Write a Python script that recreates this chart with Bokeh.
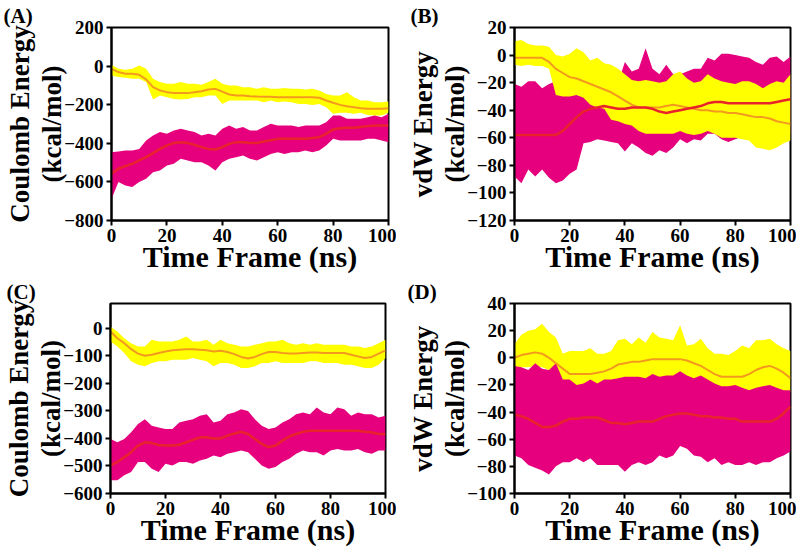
from bokeh.plotting import figure
from bokeh.layouts import column, row
from bokeh.models import LinearAxis, FixedTicker, Range1d
from bokeh.embed import file_html
from bokeh.resources import INLINE

# ---------------- data (every 2.5 ns) ----------------
time_ns = [0, 2.5, 5, 7.5, 10, 12.5, 15, 17.5, 20, 22.5, 25, 27.5, 30, 32.5, 35, 37.5, 40,
           42.5, 45, 47.5, 50, 52.5, 55, 57.5, 60, 62.5, 65, 67.5, 70, 72.5, 75, 77.5, 80,
           82.5, 85, 87.5, 90, 92.5, 95, 97.5, 100]

# (A) Coulomb energy (kcal/mol): yellow system band (hi/lo) + running average, magenta likewise
a_yel_hi = [7, -14, -19, -14, 3, -14, -66, -83, -92, -92, -83, -92, -92, -97, -83, -66, -92,
            -101, -101, -109, -109, -118, -109, -118, -118, -114, -118, -118, -121, -118, -126, -144, -152,
            -152, -135, -161, -178, -178, -187, -187, -183]
a_yel_lo = [-49, -57, -61, -66, -66, -83, -173, -152, -161, -170, -173, -170, -161, -161, -152, -152, -196,
            -178, -178, -178, -178, -178, -187, -178, -187, -183, -187, -196, -196, -201, -196, -213, -247,
            -242, -242, -247, -242, -253, -256, -256, -242]
a_yel_avg = [-14, -31, -40, -40, -45, -69, -109, -126, -135, -139, -140, -140, -135, -130, -121, -118, -132,
             -147, -152, -152, -156, -158, -159, -159, -161, -161, -161, -161, -161, -161, -164, -178, -190,
             -201, -208, -213, -218, -221, -221, -221, -218]
a_mag_hi = [-446, -442, -437, -437, -429, -385, -360, -342, -351, -334, -325, -334, -342, -360, -351, -360, -325,
            -308, -325, -316, -334, -334, -316, -299, -308, -308, -308, -316, -308, -308, -308, -291, -256,
            -256, -273, -273, -273, -265, -256, -265, -247]
a_mag_lo = [-688, -601, -619, -627, -601, -584, -550, -541, -515, -506, -480, -489, -498, -498, -515, -541, -498,
            -480, -472, -463, -480, -489, -472, -455, -446, -455, -446, -446, -437, -446, -437, -411, -377,
            -385, -385, -385, -385, -377, -377, -385, -394]
a_mag_avg = [-558, -532, -518, -506, -489, -472, -451, -429, -411, -399, -394, -398, -408, -420, -429, -432, -420,
             -403, -394, -394, -398, -398, -391, -384, -377, -377, -377, -377, -377, -373, -368, -351, -328,
             -322, -320, -320, -315, -311, -308, -308, -308]

# (B) vdW energy (kcal/mol)
b_yel_hi = [10, 11, 8, 7, 7, 6, 0, -1, 1, 5, 2, -4, -2, -6, -7, -10, -14,
            -18, -19, -18, -19, -20, -19, -14, -12, -17, -20, -19, -14, -17, -19, -20, -21,
            -19, -19, -21, -24, -21, -19, -20, -14]
b_yel_lo = [-7, -8, -7, -8, -8, -10, -29, -30, -30, -29, -31, -36, -38, -39, -47, -48, -50,
            -51, -55, -57, -57, -57, -57, -57, -55, -57, -58, -57, -55, -57, -60, -60, -60,
            -61, -62, -67, -68, -69, -67, -64, -62]
b_yel_avg = [-2, -2, -2, -2, -2, -5, -10, -13, -16, -17, -19, -21, -23, -25, -27, -30, -33,
             -36, -38, -38, -38, -38, -37, -36, -37, -38, -39, -40, -40, -41, -41, -42, -42,
             -43, -44, -45, -45, -46, -48, -49, -50]
b_mag_hi = [-21, -23, -19, -19, -24, -21, -19, -26, -26, -29, -30, -31, -33, -33, -26, -20, -5,
            -12, -10, 5, -10, -14, -7, -14, -14, -12, -10, -10, -2, -4, 1, 1, 0,
            -1, -2, -5, -7, -2, -1, -5, -1]
b_mag_lo = [-88, -93, -83, -88, -83, -89, -93, -91, -86, -83, -64, -63, -61, -62, -63, -64, -70,
            -64, -67, -71, -73, -69, -71, -67, -61, -64, -61, -62, -57, -57, -61, -63, -61,
            -59, -57, -61, -60, -57, -55, -55, -57]
b_mag_avg = [-58, -58, -58, -58, -58, -58, -58, -55, -50, -45, -41, -39, -38, -37, -38, -39, -39,
             -38, -38, -38, -39, -41, -42, -41, -40, -39, -38, -37, -35, -34, -34, -35, -35,
             -35, -35, -35, -35, -35, -34, -33, -32]

# (C) Coulomb energy (kcal/mol)
c_yel_hi = [6, -12, -36, -54, -66, -66, -42, -48, -48, -48, -42, -30, -48, -48, -42, -60, -42,
            -54, -60, -66, -66, -60, -54, -48, -48, -42, -54, -60, -54, -60, -54, -60, -60,
            -60, -60, -66, -66, -72, -66, -54, -42]
c_yel_lo = [-48, -66, -90, -120, -132, -138, -126, -120, -120, -114, -114, -114, -108, -114, -120, -138, -126,
            -126, -132, -144, -144, -138, -126, -126, -120, -126, -126, -126, -126, -120, -120, -126, -126,
            -126, -132, -132, -138, -144, -144, -132, -108]
c_yel_avg = [-12, -36, -54, -76, -92, -100, -96, -90, -84, -80, -78, -76, -76, -78, -80, -84, -82,
             -86, -94, -104, -110, -104, -94, -86, -86, -90, -92, -92, -90, -88, -88, -90, -90,
             -90, -90, -96, -102, -108, -104, -92, -80]
c_mag_hi = [-402, -414, -402, -378, -348, -330, -354, -360, -366, -366, -342, -336, -330, -318, -312, -342, -336,
            -312, -306, -294, -300, -330, -354, -366, -360, -342, -330, -312, -306, -312, -288, -306, -312,
            -288, -294, -318, -306, -312, -312, -324, -318]
c_mag_lo = [-552, -552, -534, -522, -486, -486, -510, -522, -492, -498, -486, -486, -492, -480, -474, -462, -468,
            -456, -450, -444, -450, -474, -498, -510, -504, -486, -474, -456, -444, -450, -450, -462, -444,
            -438, -444, -444, -438, -450, -456, -444, -444]
c_mag_avg = [-498, -486, -468, -450, -426, -414, -417, -424, -426, -426, -423, -414, -405, -396, -396, -400, -400,
             -390, -382, -376, -384, -402, -420, -432, -426, -408, -393, -384, -376, -372, -372, -372, -372,
             -372, -372, -372, -372, -376, -378, -384, -384]

# (D) vdW energy (kcal/mol)
d_yel_hi = [10, 17, 20, 21, 25, 19, 15, 3, 5, 5, 5, 7, 3, 3, 5, 13, 14,
            10, 15, 11, 19, 15, 14, 13, 24, 9, 10, 14, 7, 3, 3, 2, 5,
            9, 7, 13, 13, 14, 10, 7, 5]
d_yel_lo = [-7, -7, -7, -6, -7, -9, -12, -28, -27, -24, -26, -24, -25, -24, -22, -19, -20,
            -21, -19, -18, -16, -18, -16, -15, -16, -19, -21, -24, -27, -28, -31, -31, -28,
            -31, -27, -25, -24, -22, -24, -25, -25]
d_yel_avg = [0, 2, 3, 4, 3, 0, -4, -8, -12, -12, -12, -12, -11, -10, -8, -5, -4,
             -3, -3, -2, -1, -1, -1, -1, -1, -2, -4, -6, -9, -12, -14, -14, -14,
             -14, -12, -9, -7, -6, -8, -11, -15]
d_mag_hi = [-6, -7, -9, -4, -8, -9, -4, -16, -16, -20, -19, -16, -19, -16, -16, -15, -14,
            -14, -14, -15, -12, -14, -13, -13, -10, -13, -15, -13, -16, -19, -21, -21, -20,
            -22, -24, -22, -21, -20, -22, -24, -24]
d_mag_lo = [-72, -74, -79, -81, -83, -86, -80, -77, -77, -74, -77, -74, -79, -79, -79, -79, -84,
            -79, -77, -79, -77, -72, -74, -72, -65, -67, -72, -73, -77, -74, -79, -77, -79,
            -79, -77, -79, -77, -77, -74, -72, -69]
d_mag_avg = [-42, -43, -45, -48, -51, -51, -50, -47, -45, -45, -44, -44, -44, -46, -48, -48, -49,
             -48, -47, -47, -47, -45, -43, -42, -41, -41, -42, -43, -43, -44, -44, -45, -45,
             -47, -47, -47, -47, -47, -45, -41, -36]

x_ticks = [0, 20, 40, 60, 80, 100]

YEL = "#FFFF00"
YEL_LINE = "#F39A1E"
MAG = "#E6007E"
MAG_LINE = "#E8232B"
FONT = "Liberation Serif"


def panel(tag, tag_dx, ylabel1, ylabel2, y_start, y_end, y_ticks, series, yellow_on_top,
          w, h, bl, br, bt, bb):
    p = figure(width=w, height=h, output_backend="svg", toolbar_location=None,
               x_range=Range1d(0, 100), y_range=Range1d(y_start, y_end),
               min_border_left=bl, min_border_right=br, min_border_top=bt, min_border_bottom=bb,
               title=tag)
    p.title.align = "left"
    p.title.offset = -(bl - tag_dx)
    p.title.standoff = 0
    p.title.text_font = FONT
    p.title.text_font_style = "bold"
    p.title.text_font_size = "21px"
    p.title.text_color = "black"

    p.grid.visible = False
    p.outline_line_color = "black"
    p.outline_line_width = 2
    p.background_fill_color = "white"

    (yh, yl, ya, mh, ml, ma) = series

    def draw_yel():
        p.varea(x=time_ns, y1=yl, y2=yh, fill_color=YEL, fill_alpha=1)

    def draw_mag():
        p.varea(x=time_ns, y1=ml, y2=mh, fill_color=MAG, fill_alpha=1)

    if yellow_on_top:
        draw_mag(); draw_yel()
    else:
        draw_yel(); draw_mag()
    p.line(time_ns, ya, line_color=YEL_LINE, line_width=2)
    p.line(time_ns, ma, line_color=MAG_LINE, line_width=2.5)

    p.axis.axis_line_width = 2
    p.axis.major_tick_line_width = 2
    p.axis.major_tick_out = 5
    p.axis.major_tick_in = 0
    p.axis.minor_tick_line_color = None
    p.axis.major_label_text_font = FONT
    p.axis.major_label_text_font_style = "bold"
    p.axis.major_label_text_font_size = "19px"
    p.axis.major_label_text_color = "black"
    p.axis.axis_label_text_font = FONT
    p.axis.axis_label_text_font_style = "bold"
    p.axis.axis_label_text_color = "black"

    p.xaxis.ticker = FixedTicker(ticks=x_ticks)
    p.yaxis.ticker = FixedTicker(ticks=y_ticks)
    p.xaxis.axis_label = "Time Frame (ns)"
    p.xaxis.axis_label_text_font_size = "30px"
    p.xaxis.axis_label_standoff = -5
    p.xaxis.major_label_standoff = 3
    p.yaxis.axis_label = ylabel2
    p.yaxis.axis_label_text_font_size = "27px"
    p.yaxis.axis_label_standoff = -6
    p.yaxis.major_label_standoff = 3

    extra = LinearAxis(ticker=FixedTicker(ticks=[]), axis_line_color=None,
                       major_tick_line_color=None, minor_tick_line_color=None,
                       major_tick_out=0, major_tick_in=0, major_label_standoff=0,
                       major_label_text_font_size="0px",
                       axis_label=ylabel1, axis_label_text_font=FONT,
                       axis_label_text_font_style="bold", axis_label_text_font_size="27px",
                       axis_label_text_color="black", axis_label_standoff=0)
    p.add_layout(extra, "left")
    return p


pa = panel("(A)", 3, "Coulomb Energy", "(kcal/mol)", -800, 200, [-800, -600, -400, -200, 0, 200],
           (a_yel_hi, a_yel_lo, a_yel_avg, a_mag_hi, a_mag_lo, a_mag_avg), False,
           396, 277, 111, 8, 27, 57)
pb = panel("(B)", 14, "vdW Energy", "(kcal/mol)", -120, 20, [-120, -100, -80, -60, -40, -20, 0, 20],
           (b_yel_hi, b_yel_lo, b_yel_avg, b_mag_hi, b_mag_lo, b_mag_avg), True,
           400, 277, 118, 6, 24, 57)
pc = panel("(C)", 3, "Coulomb Energy", "(kcal/mol)", -600, 90, [-600, -500, -400, -300, -200, -100, 0],
           (c_yel_hi, c_yel_lo, c_yel_avg, c_mag_hi, c_mag_lo, c_mag_avg), False,
           396, 275, 107, 11, 22, 59)
pd_ = panel("(D)", 11, "vdW Energy", "(kcal/mol)", -100, 40, [-100, -80, -60, -40, -20, 0, 20, 40],
            (d_yel_hi, d_yel_lo, d_yel_avg, d_mag_hi, d_mag_lo, d_mag_avg), False,
            400, 275, 118, 6, 25, 56)

layout = column(row(pa, pb), row(pc, pd_))
open("out.html", "w").write(file_html(layout, INLINE))
